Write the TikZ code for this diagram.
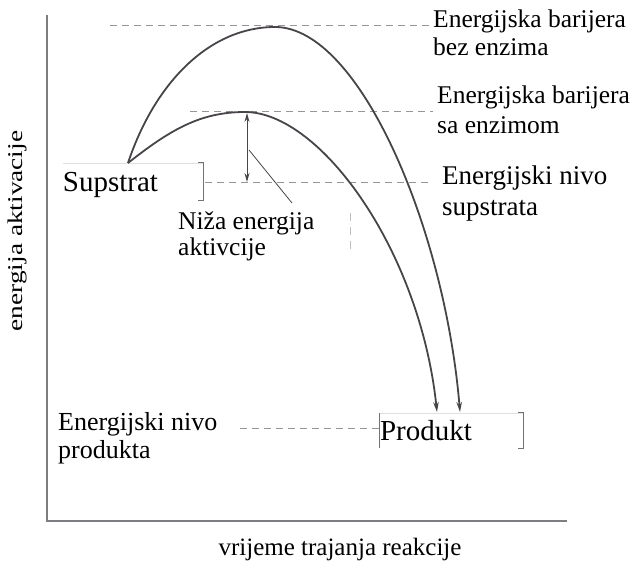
\documentclass[tikz,border=0pt]{standalone}
\usepackage{fontspec}
\setmainfont{Liberation Serif}
\usetikzlibrary{arrows.meta, positioning}
\definecolor{curvegray}{RGB}{72,68,74}
\definecolor{dashgray}{RGB}{150,150,150}
\definecolor{axisgray}{RGB}{125,125,130}

\begin{document}
\begin{tikzpicture}[%
    x = 1pt, y = -1pt,
    >= { Stealth[length=10pt, width=5.5pt] },
    curve/.style = {draw = curvegray, line width = 1.8pt},
    level/.style = {draw = dashgray, line width = 0.9pt,
      dash pattern = on 7pt off 5pt},
    txt/.style = {anchor = base west, inner sep = 0pt, align = left},
    boxtop/.style = {draw = black!12, line width = 0.6pt},
    boxside/.style = {draw = black!55, line width = 0.9pt},
    textbox/.style = {rectangle, inner sep = 0pt, text depth = 0pt}
  ]
\useasboundingbox (0,0) rectangle (633,562);

% axes
\coordinate (O) at (47,521);
\coordinate (ytop) at (47,15);
\coordinate (xend) at (567,521);
\draw[axisgray, line width = 1.5pt] (ytop) -- (O) -- (xend);

\node[anchor = base, font = \fontsize{25}{28}\selectfont] (xlab) at (340,555)
  {vrijeme trajanja reakcije};
\node[rotate = 90, xscale = 1.3, font = \fontsize{21}{24}\selectfont] (ylab)
  at (17,231) {energija aktivacije};

% substrate and product boxes
\node[textbox, minimum width = 140pt, minimum height = 37pt, text width = 140pt,
  font = \fontsize{29}{30}\selectfont] (sub) at (133,181.5) {Supstrat};
\draw[boxtop] (sub.north west) -- (sub.north east);
\draw[boxside] ([xshift = -5pt] sub.north east) -- (sub.north east)
  -- (sub.south east) -- ([xshift = -5pt] sub.south east);

\node[textbox, minimum width = 143pt, minimum height = 35pt, text width = 143pt,
  font = \fontsize{29}{30}\selectfont] (prod) at (451.5,430.5) {Produkt};
\draw[boxtop] (prod.north west) -- (prod.north east);
\draw[boxside] (prod.north west) -- (prod.south west);
\draw[boxside] ([xshift = -5pt] prod.north east) -- (prod.north east)
  -- (prod.south east) -- ([xshift = -5pt] prod.south east);

% level labels (base = last line)
\node[txt, font = \fontsize{25.5}{28}\selectfont] (bez) at (433,55)
  {Energijska barijera\\bez enzima};
\node[txt, font = \fontsize{25.5}{30}\selectfont] (sa) at (437,133)
  {Energijska barijera\\sa enzimom};
\node[txt, font = \fontsize{27}{31}\selectfont] (nivosub) at (442,215)
  {Energijski nivo\\supstrata};
\node[txt, font = \fontsize{26}{28}\selectfont] (nivoprod) at (58,458)
  {Energijski nivo\\produkta};
\node[txt, font = \fontsize{25.5}{26}\selectfont] (niza) at (178,255)
  {Niža energija\\aktivcije};

% dashed levels
\coordinate (lvA1) at (110,25);  \coordinate (lvA2) at (430,25);
\coordinate (lvB1) at (190,111); \coordinate (lvB2) at (433,111);
\coordinate (lvC1) at (205,182); \coordinate (lvC2) at (430,182);
\coordinate (lvD1) at (240,428);
\draw[level] (lvA1) -- (lvA2);
\draw[level] (lvB1) -- (lvB2);
\draw[level] (lvC1) -- (lvC2);
\draw[level] (lvD1) -- (prod.west |- lvD1);

% faint frame of the label box
\coordinate (fr1) at (350,213); \coordinate (fr2) at (350,250);
\draw[black!25, dash pattern = on 8pt off 6pt] (fr1) -- (fr2);

% energy curves
\coordinate (S) at (128,163);
\coordinate (peakU) at (275,27);
\coordinate (peakL) at (245,112);
\coordinate (endU) at (460,412);
\coordinate (endL) at (437,412);

\draw[curve, ->] (S) .. controls (155,82) and (210,27) .. (peakU)
  .. controls (360,27) and (445,230) .. (endU);
\draw[curve, ->] (S) .. controls (170,130) and (200,112) .. (peakL)
  .. controls (320,112) and (420,250) .. (endL);

% activation energy difference
\coordinate (dtop) at (247,113);
\coordinate (dbot) at (247,182);
\coordinate (lead1) at (249,150);
\coordinate (lead2) at (292,203);
\draw[curvegray, line width = 1pt,
  {Stealth[length=9pt, width=5pt]}-{Stealth[length=9pt, width=5pt]}] (dtop) -- (dbot);
\draw[curvegray, line width = 0.8pt] (lead1) -- (lead2);

\end{tikzpicture}
\end{document}
